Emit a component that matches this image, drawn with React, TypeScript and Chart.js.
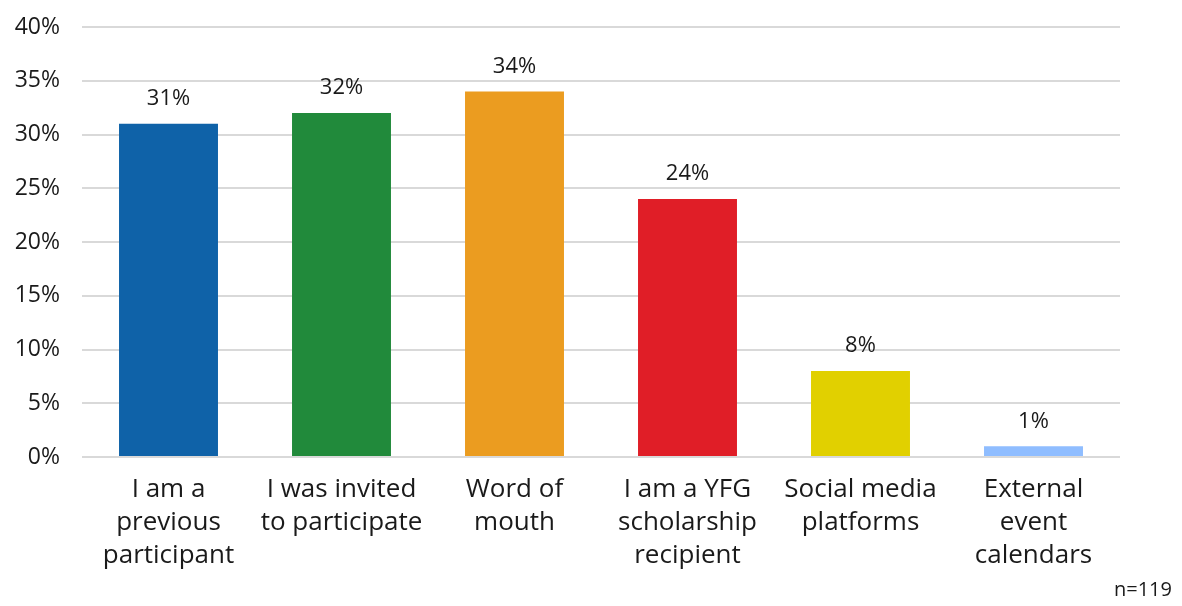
import React, { useEffect, useRef } from "react";
import { Chart, registerables } from "chart.js";

Chart.register(...registerables);

const categories: string[][] = [
  ["I am a", "previous", "participant"],
  ["I was invited", "to participate"],
  ["Word of", "mouth"],
  ["I am a YFG", "scholarship", "recipient"],
  ["Social media", "platforms"],
  ["External", "event", "calendars"],
];
const values: number[] = [31, 32, 34, 24, 8, 1];
const barColors: string[] = ["#0F62A8", "#218A3B", "#EB9C20", "#E01E27", "#E1D000", "#8FBDFF"];
const yTicks: number[] = [0, 5, 10, 15, 20, 25, 30, 35, 40];
const note = "n=119";

const FONT = "'Open Sans'";

const valueLabels = {
  id: "valueLabels",
  afterDatasetsDraw(chart: any) {
    const { ctx } = chart;
    const meta = chart.getDatasetMeta(0);
    ctx.save();
    ctx.font = `22px ${FONT}`;
    ctx.fillStyle = "#1a1a1a";
    ctx.textAlign = "center";
    ctx.textBaseline = "middle";
    meta.data.forEach((bar: any, i: number) => {
      ctx.fillText(`${values[i]}%`, bar.x, bar.y - 25);
    });
    ctx.restore();
  },
};

export default function App() {
  const ref = useRef<HTMLCanvasElement | null>(null);
  useEffect(() => {
    if (!ref.current) return;
    const chart = new Chart(ref.current, {
      type: "bar",
      data: {
        labels: categories,
        datasets: [
          {
            data: values,
            backgroundColor: barColors,
            barPercentage: 0.572,
            categoryPercentage: 1,
          },
        ],
      },
      options: {
        animation: false,
        responsive: true,
        maintainAspectRatio: false,
        layout: { padding: { top: 27, right: 62, left: 0, bottom: 0 } },
        plugins: { legend: { display: false }, tooltip: { enabled: false } },
        scales: {
          x: {
            grid: { display: false, drawTicks: false },
            border: { display: false },
            ticks: {
              color: "#1a1a1a",
              font: { family: FONT, size: 26, lineHeight: 1.27 },
              padding: 16,
              maxRotation: 0,
              autoSkip: false,
            },
            afterFit: (s: any) => {
              s.height = 149;
            },
          },
          y: {
            min: 0,
            max: 40,
            afterBuildTicks: (s: any) => {
              s.ticks = yTicks.map((v) => ({ value: v }));
            },
            grid: { color: "#d9d9d9", lineWidth: 2, drawTicks: false },
            border: { display: false },
            ticks: {
              color: "#1a1a1a",
              font: { family: FONT, size: 23 },
              padding: 22,
              callback: (v: any) => `${v}%`,
            },
            afterFit: (s: any) => {
              s.width = 82;
              s.paddingTop = 0;
              s.paddingBottom = 0;
            },
          },
        },
      },
      plugins: [valueLabels],
    });
    return () => chart.destroy();
  }, []);
  return (
    <div style={{ position: "fixed", left: 0, top: 0, width: 1182, height: 606, background: "#fff" }}>
      <canvas ref={ref} />
      <div
        style={{
          position: "absolute",
          right: 10,
          bottom: 4,
          fontFamily: FONT,
          fontSize: 20,
          color: "#1a1a1a",
        }}
      >
        {note}
      </div>
    </div>
  );
}
